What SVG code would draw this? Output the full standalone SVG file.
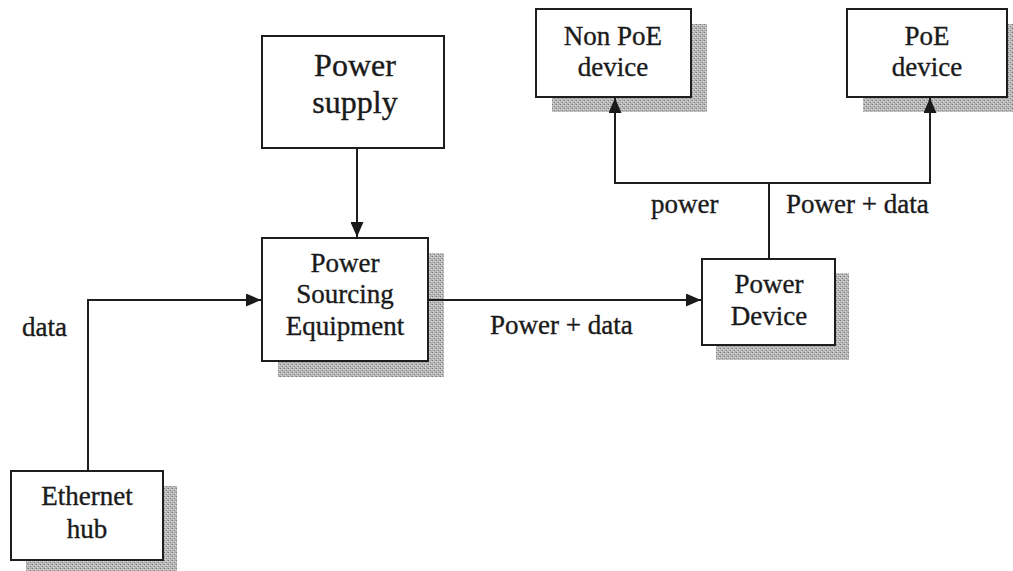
<svg xmlns="http://www.w3.org/2000/svg" width="1013" height="571" viewBox="0 0 1013 571" font-family="'Liberation Serif', 'DejaVu Serif', serif">
  <style>
    .box { fill: #ffffff; stroke: #1e1e1e; stroke-width: 2; }
    .shadow { fill: url(#stipple); }
    .wire { fill: none; stroke: #1e1e1e; stroke-width: 2; }
    text { font-family: 'Liberation Serif', 'DejaVu Serif', serif; fill: #1a1a1a; stroke: #1a1a1a; stroke-width: 0.35; }
    .txt { font-size: 27px; text-anchor: middle; }
    .big { font-size: 32px; }
    .lbl { font-size: 27px; }
  </style>
  <defs>
    <!-- grainy grey drop-shadow texture -->
    <pattern id="stipple" width="4" height="4" patternUnits="userSpaceOnUse">
      <rect width="4" height="4" fill="#b8b8b8"/>
      <rect x="0" y="0" width="1" height="1" fill="#7c7c7c"/>
      <rect x="2" y="2" width="1" height="1" fill="#8c8c8c"/>
      <rect x="3" y="0" width="1" height="1" fill="#9c9c9c"/>
      <rect x="1" y="2" width="1" height="1" fill="#a0a0a0"/>
      <rect x="3" y="1" width="1" height="1" fill="#e2e2e2"/>
      <rect x="1" y="3" width="1" height="1" fill="#e0e0e0"/>
      <rect x="1" y="1" width="1" height="1" fill="#d6d6d6"/>
    </pattern>
    <marker id="arrow" viewBox="0 0 15 13" refX="15" refY="6.5" markerWidth="15" markerHeight="13" markerUnits="userSpaceOnUse" orient="auto">
      <path d="M0,0 L15,6.5 L0,13 Z" fill="#1a1a1a"/>
    </marker>
  </defs>

  <rect width="1013" height="571" fill="#ffffff"/>

  <g id="power-supply">
    <rect class="box" x="262" y="36" width="182" height="112"/>
    <text class="txt big" x="355" y="76">Power</text>
    <text class="txt big" x="355" y="113">supply</text>
  </g>

  <g id="pse">
    <rect class="shadow" x="278" y="253" width="166" height="124"/>
    <rect class="box" x="262" y="238" width="166" height="123"/>
    <text class="txt" x="345" y="272">Power</text>
    <text class="txt" x="345" y="303">Sourcing</text>
    <text class="txt" x="345" y="335">Equipment</text>
  </g>

  <g id="power-device">
    <rect class="shadow" x="716" y="273" width="133" height="87"/>
    <rect class="box" x="702" y="259" width="133" height="86"/>
    <text class="txt" x="769" y="293">Power</text>
    <text class="txt" x="769" y="325">Device</text>
  </g>

  <g id="non-poe-device">
    <rect class="shadow" x="552" y="24" width="155" height="88"/>
    <rect class="box" x="536" y="9" width="155" height="88"/>
    <text class="txt" x="613" y="45">Non PoE</text>
    <text class="txt" x="613" y="76">device</text>
  </g>

  <g id="poe-device">
    <rect class="shadow" x="863" y="24" width="150" height="88"/>
    <rect class="box" x="847" y="9" width="160" height="88"/>
    <text class="txt" x="927" y="45">PoE</text>
    <text class="txt" x="927" y="76">device</text>
  </g>

  <g id="ethernet-hub">
    <rect class="shadow" x="26" y="486" width="151" height="85"/>
    <rect class="box" x="11" y="471" width="152" height="89"/>
    <text class="txt" x="87" y="505">Ethernet</text>
    <text class="txt" x="87" y="538">hub</text>
  </g>

  <!-- connectors, drawn last so arrowheads sit above the shadows -->
  <g id="connectors">
    <path class="wire" d="M357,148 V237" marker-end="url(#arrow)"/>
    <path class="wire" d="M88,471 V300 H261" marker-end="url(#arrow)"/>
    <path class="wire" d="M428,300 H701" marker-end="url(#arrow)"/>
    <path class="wire" d="M769,259 V183"/>
    <path class="wire" d="M769,183 H615 V98" marker-end="url(#arrow)"/>
    <path class="wire" d="M769,183 H930 V98" marker-end="url(#arrow)"/>
    <text class="lbl" x="22" y="336">data</text>
    <text class="lbl" x="490" y="334">Power + data</text>
    <text class="lbl" x="651" y="213">power</text>
    <text class="lbl" x="786" y="213">Power + data</text>
  </g>
</svg>
